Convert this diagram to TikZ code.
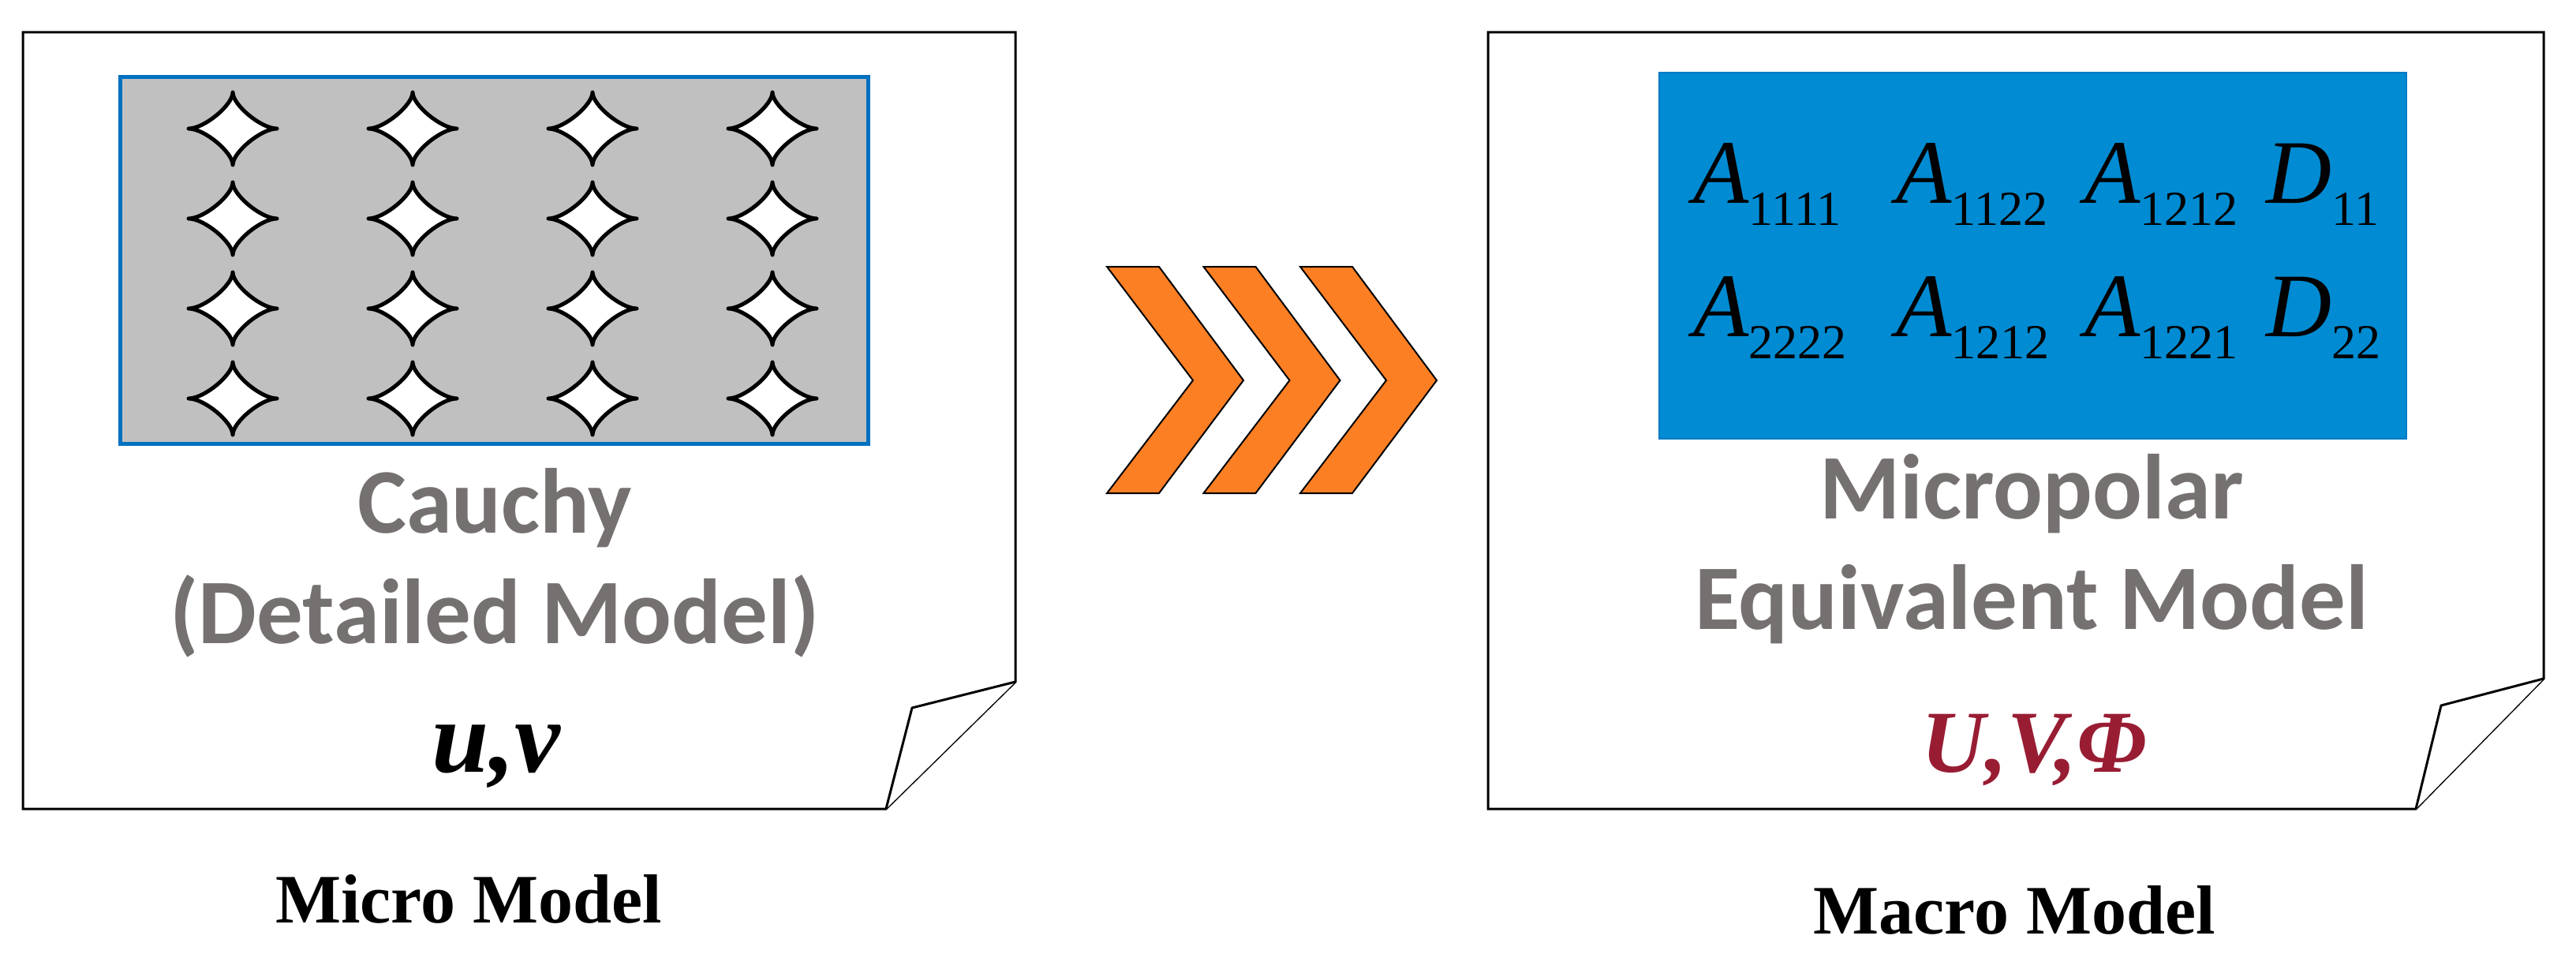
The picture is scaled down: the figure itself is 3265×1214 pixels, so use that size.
\documentclass[tikz,border=0pt]{standalone}
\usepackage{fontspec}
\setmainfont{Liberation Serif}
\newfontfamily\calib{Carlito}
\definecolor{boxblue}{RGB}{0,112,192}
\definecolor{cellgray}{RGB}{192,192,192}
\definecolor{macroblue}{RGB}{0,139,210}
\definecolor{macroedge}{RGB}{0,122,196}
\definecolor{chevorange}{RGB}{253,127,36}
\definecolor{txtgray}{RGB}{118,113,113}
\definecolor{uvred}{RGB}{152,29,51}
\newcommand{\entry}[2]{{\itshape #1}\raisebox{-14pt}{\fontsize{31pt}{32pt}\selectfont #2}}
\tikzset{
  page/.style={draw=black, line width=1.5pt, fill=white, line join=miter},
  flap/.style={draw=black, line width=1.5pt, fill=white, line join=round},
  chev/.style={draw=black, line width=1pt, fill=chevorange, line join=miter},
  microbox/.style={draw=boxblue, line width=2.5pt, fill=cellgray},
  macrobox/.style={draw=macroedge, line width=1pt, fill=macroblue},
  graytxt/.style={text=txtgray, anchor=base, inner sep=0pt, font=\calib\bfseries\fontsize{58.5pt}{70pt}\selectfont},
  enttxt/.style={anchor=base west, inner sep=0pt, font=\fontsize{57.5pt}{60pt}\selectfont},
  vartxt/.style={anchor=base, inner sep=0pt, font=\bfseries\itshape\fontsize{65pt}{70pt}\selectfont},
  captxt/.style={anchor=base, inner sep=0pt, font=\bfseries\fontsize{44pt}{50pt}\selectfont},
  astro/.pic={\draw[line width=2.5pt, fill=white, line join=round]
     (56,0) .. controls (36,0) and (0,30) .. (0,46)
     .. controls (0,30) and (-36,0) .. (-56,0)
     .. controls (-36,0) and (0,-30) .. (0,-46)
     .. controls (0,-30) and (36,0) .. cycle;}
}
\begin{document}
\begin{tikzpicture}[x=0.5pt,y=-0.5pt]
\useasboundingbox (0,0) rectangle (3265,1214);
\fill[white] (0,0) rectangle (3265,1214);

% left page (micro model)
\draw[page] (29,41) -- (1287,41) -- (1287,864) -- (1123,1025) -- (29,1025) -- cycle;
\draw[flap] (1287,864) -- (1156,897) -- (1123,1025);
\draw[microbox] (152,98) rectangle (1100,562);
\foreach \cx in {295,523,751,979} {
  \foreach \cy in {163,277,391,505} {
    \pic at (\cx,\cy) {astro};
  }
}
\node[graytxt] (cauchy) at (627,675) {Cauchy};
\node[graytxt] (detailed) at (627,815) {(Detailed Model)};
\node[vartxt] (uv) at (629,978) {u,v};
\node[captxt] (micro) at (594,1169) {Micro Model};

% chevrons
\foreach \o in {0,122.5,245} {
  \draw[chev] (1403+\o,338) -- (1469+\o,338) -- (1576+\o,482) -- (1469+\o,625)
     -- (1403+\o,625) -- (1512+\o,482) -- cycle;
}

% right page (macro model)
\draw[page] (1886,41) -- (3224,41) -- (3224,860) -- (3062,1025) -- (1886,1025) -- cycle;
\draw[flap] (3224,860) -- (3094,894) -- (3062,1025);
\draw[macrobox] (2103,92) rectangle (3050,556);
\node[enttxt] (a1111) at (2146,257) {\entry{A}{1111}};
\node[enttxt] (a1122) at (2403,257) {\entry{A}{1122}};
\node[enttxt] (a1212) at (2642,257) {\entry{A}{1212}};
\node[enttxt] (d11) at (2872,257) {\entry{D}{11}};
\node[enttxt] (a2222) at (2146,426) {\entry{A}{2222}};
\node[enttxt] (a1212b) at (2403,426) {\entry{A}{1212}};
\node[enttxt] (a1221) at (2642,426) {\entry{A}{1221}};
\node[enttxt] (d22) at (2872,426) {\entry{D}{22}};
\node[graytxt] (micropolar) at (2575,657) {Micropolar};
\node[graytxt] (equiv) at (2575,797) {Equivalent Model};
\node[vartxt, text=uvred, font=\bfseries\itshape\fontsize{56pt}{60pt}\selectfont] (uvphi) at (2578,978) {U,V,Φ};
\node[captxt] (macro) at (2553,1183) {Macro Model};
\end{tikzpicture}
\end{document}
